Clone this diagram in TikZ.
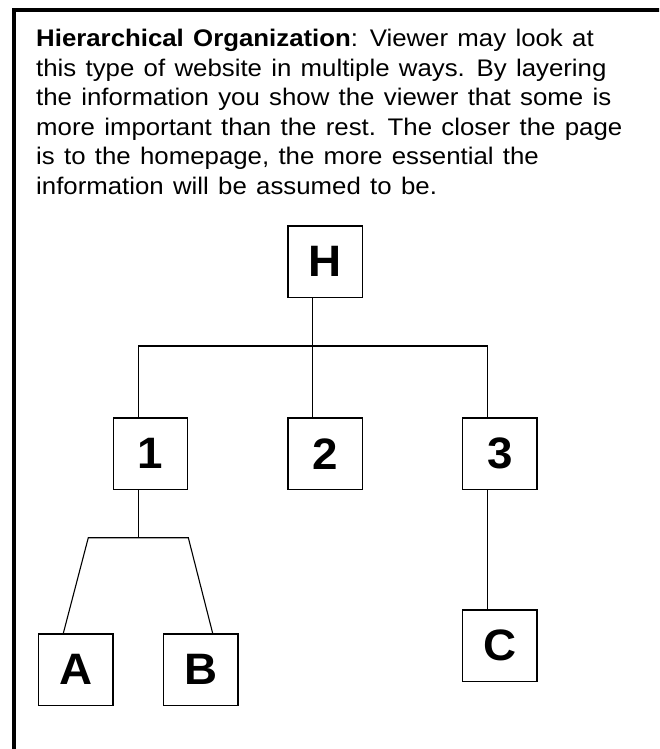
\documentclass[tikz,border=0pt]{standalone}
\usepackage{fontspec}
\setmainfont{Liberation Sans}
\newfontfamily\bodyfont{Liberation Sans}[FakeStretch=1.075,WordSpace=1.3]
\newfontfamily\labelfont{Liberation Sans}[FakeStretch=1.04]
\begin{document}
\begin{tikzpicture}[x=1pt,y=-1pt,
  pagebox/.style={draw=black,line width=1.3pt,inner sep=0pt,minimum width=74.3pt,minimum height=71.4pt,
    font=\labelfont\fontsize{44}{44}\selectfont\bfseries},
  conn/.style={draw=black,line width=1.1pt},
  txt/.style={anchor=base west,inner sep=0pt,font=\bodyfont\fontsize{24}{29.5}\selectfont}]
\useasboundingbox (0,0) rectangle (659,749);
\clip (0,0) rectangle (659,749);
% frame (only top and left edges visible)
\coordinate (fb) at (13.7,760);
\coordinate (fc) at (13.7,10);
\coordinate (fr) at (670,10);
\draw[line width=3.6pt,line join=miter] (fb) -- (fc) -- (fr);
% text
\node[txt] (t1) at (36,46.7) {\textbf{Hierarchical Organization}: Viewer may look at};
\node[txt] (t2) at (36,76.2) {this type of website in multiple ways. By layering};
\node[txt] (t3) at (36,105.7) {the information you show the viewer that some is};
\node[txt] (t4) at (36,135.2) {more important than the rest. The closer the page};
\node[txt] (t5) at (36,164.7) {is to the homepage, the more essential the};
\node[txt] (t6) at (36,194.2) {information will be assumed to be.};
% boxes
\node[pagebox] (H) at (325,261.7) {H};
\node[pagebox] (n1) at (150.5,453.7) {1};
\node[pagebox] (n2) at (325,453.7) {2};
\node[pagebox] (n3) at (499.8,453.7) {3};
\node[pagebox] (A) at (75.8,669.7) {A};
\node[pagebox] (B) at (200.7,669.7) {B};
\node[pagebox] (C) at (499.8,645.7) {C};
% connectors
\coordinate (hb) at (312.3,346);
\coordinate (hl) at (138.3,346);
\coordinate (hr) at (487.5,346);
\draw[conn] ([xshift=-12.7pt]H.south) -- (hb);
\draw[conn] ([xshift=-12.2pt]n1.north) |- (hl) -- (hr) -- ([xshift=-12.3pt]n3.north);
\draw[conn] (hb) -- ([xshift=-12.7pt]n2.north);
\coordinate (s1) at (138.3,537.7);
\coordinate (sl) at (88.3,537.7);
\coordinate (sr) at (188.3,537.7);
\draw[conn] ([xshift=-12.2pt]n1.south) -- (s1);
\draw[conn,line join=miter] ([xshift=-12.5pt]A.north) -- (sl) -- (sr) -- ([xshift=12pt]B.north);
\draw[conn] ([xshift=-12.3pt]n3.south) -- ([xshift=-12.3pt]C.north);
\end{tikzpicture}
\end{document}
